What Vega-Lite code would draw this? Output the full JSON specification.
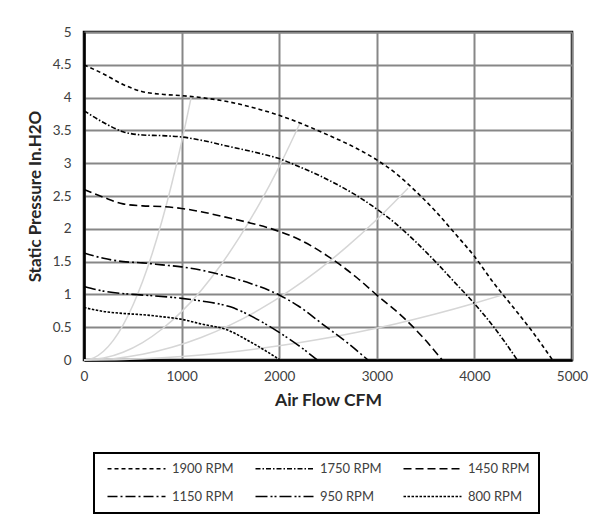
{
  "$schema": "https://vega.github.io/schema/vega-lite/v6.json",
  "width": 488,
  "height": 328,
  "autosize": {"type": "none"},
  "padding": {"left": 84, "top": 32, "right": 36, "bottom": 172},
  "background": "white",
  "config": {
    "font": "Lato",
    "view": {"stroke": "black", "strokeWidth": 2.5},
    "legend": {"strokeWidth": 2},
    "axis": {
      "labelFont": "Lato",
      "titleFont": "Lato",
      "labelColor": "#404040",
      "titleColor": "#262626",
      "gridColor": "#878787",
      "gridWidth": 2,
      "gridOpacity": 1,
      "ticks": false,
      "domainColor": "black",
      "domainWidth": 2.5
    }
  },
  "datasets": {
    "fan": [
      {"rpm": "1900 RPM", "cfm": 0, "p": 4.5}, {"rpm": "1900 RPM", "cfm": 200, "p": 4.36}, {"rpm": "1900 RPM", "cfm": 400, "p": 4.2}, {"rpm": "1900 RPM", "cfm": 600, "p": 4.09}, {"rpm": "1900 RPM", "cfm": 800, "p": 4.05}, {"rpm": "1900 RPM", "cfm": 1000, "p": 4.03}, {"rpm": "1900 RPM", "cfm": 1200, "p": 4.0}, {"rpm": "1900 RPM", "cfm": 1500, "p": 3.93}, {"rpm": "1900 RPM", "cfm": 1800, "p": 3.82}, {"rpm": "1900 RPM", "cfm": 2000, "p": 3.73}, {"rpm": "1900 RPM", "cfm": 2200, "p": 3.62}, {"rpm": "1900 RPM", "cfm": 2500, "p": 3.43}, {"rpm": "1900 RPM", "cfm": 2800, "p": 3.22}, {"rpm": "1900 RPM", "cfm": 3000, "p": 3.05}, {"rpm": "1900 RPM", "cfm": 3200, "p": 2.84}, {"rpm": "1900 RPM", "cfm": 3400, "p": 2.57}, {"rpm": "1900 RPM", "cfm": 3600, "p": 2.27}, {"rpm": "1900 RPM", "cfm": 3800, "p": 1.93}, {"rpm": "1900 RPM", "cfm": 4000, "p": 1.58}, {"rpm": "1900 RPM", "cfm": 4200, "p": 1.17}, {"rpm": "1900 RPM", "cfm": 4400, "p": 0.8}, {"rpm": "1900 RPM", "cfm": 4600, "p": 0.42}, {"rpm": "1900 RPM", "cfm": 4800, "p": 0},
      {"rpm": "1750 RPM", "cfm": 0, "p": 3.8}, {"rpm": "1750 RPM", "cfm": 200, "p": 3.62}, {"rpm": "1750 RPM", "cfm": 400, "p": 3.48}, {"rpm": "1750 RPM", "cfm": 600, "p": 3.43}, {"rpm": "1750 RPM", "cfm": 800, "p": 3.42}, {"rpm": "1750 RPM", "cfm": 1000, "p": 3.4}, {"rpm": "1750 RPM", "cfm": 1200, "p": 3.35}, {"rpm": "1750 RPM", "cfm": 1500, "p": 3.25}, {"rpm": "1750 RPM", "cfm": 1800, "p": 3.15}, {"rpm": "1750 RPM", "cfm": 2000, "p": 3.07}, {"rpm": "1750 RPM", "cfm": 2200, "p": 2.95}, {"rpm": "1750 RPM", "cfm": 2400, "p": 2.82}, {"rpm": "1750 RPM", "cfm": 2600, "p": 2.67}, {"rpm": "1750 RPM", "cfm": 2800, "p": 2.5}, {"rpm": "1750 RPM", "cfm": 3000, "p": 2.3}, {"rpm": "1750 RPM", "cfm": 3200, "p": 2.07}, {"rpm": "1750 RPM", "cfm": 3400, "p": 1.8}, {"rpm": "1750 RPM", "cfm": 3600, "p": 1.5}, {"rpm": "1750 RPM", "cfm": 3800, "p": 1.18}, {"rpm": "1750 RPM", "cfm": 4000, "p": 0.86}, {"rpm": "1750 RPM", "cfm": 4200, "p": 0.5}, {"rpm": "1750 RPM", "cfm": 4440, "p": 0},
      {"rpm": "1450 RPM", "cfm": 0, "p": 2.6}, {"rpm": "1450 RPM", "cfm": 200, "p": 2.48}, {"rpm": "1450 RPM", "cfm": 400, "p": 2.38}, {"rpm": "1450 RPM", "cfm": 600, "p": 2.35}, {"rpm": "1450 RPM", "cfm": 800, "p": 2.34}, {"rpm": "1450 RPM", "cfm": 1000, "p": 2.31}, {"rpm": "1450 RPM", "cfm": 1200, "p": 2.26}, {"rpm": "1450 RPM", "cfm": 1500, "p": 2.16}, {"rpm": "1450 RPM", "cfm": 1700, "p": 2.09}, {"rpm": "1450 RPM", "cfm": 2000, "p": 1.96}, {"rpm": "1450 RPM", "cfm": 2200, "p": 1.84}, {"rpm": "1450 RPM", "cfm": 2500, "p": 1.58}, {"rpm": "1450 RPM", "cfm": 2800, "p": 1.25}, {"rpm": "1450 RPM", "cfm": 3000, "p": 0.99}, {"rpm": "1450 RPM", "cfm": 3300, "p": 0.61}, {"rpm": "1450 RPM", "cfm": 3500, "p": 0.3}, {"rpm": "1450 RPM", "cfm": 3670, "p": 0},
      {"rpm": "1150 RPM", "cfm": 0, "p": 1.63}, {"rpm": "1150 RPM", "cfm": 200, "p": 1.55}, {"rpm": "1150 RPM", "cfm": 400, "p": 1.5}, {"rpm": "1150 RPM", "cfm": 600, "p": 1.48}, {"rpm": "1150 RPM", "cfm": 800, "p": 1.45}, {"rpm": "1150 RPM", "cfm": 1000, "p": 1.42}, {"rpm": "1150 RPM", "cfm": 1200, "p": 1.37}, {"rpm": "1150 RPM", "cfm": 1500, "p": 1.26}, {"rpm": "1150 RPM", "cfm": 1700, "p": 1.17}, {"rpm": "1150 RPM", "cfm": 2000, "p": 0.99}, {"rpm": "1150 RPM", "cfm": 2200, "p": 0.82}, {"rpm": "1150 RPM", "cfm": 2450, "p": 0.54}, {"rpm": "1150 RPM", "cfm": 2700, "p": 0.26}, {"rpm": "1150 RPM", "cfm": 2910, "p": 0},
      {"rpm": "950 RPM", "cfm": 0, "p": 1.12}, {"rpm": "950 RPM", "cfm": 200, "p": 1.05}, {"rpm": "950 RPM", "cfm": 500, "p": 1.0}, {"rpm": "950 RPM", "cfm": 700, "p": 0.98}, {"rpm": "950 RPM", "cfm": 1000, "p": 0.94}, {"rpm": "950 RPM", "cfm": 1200, "p": 0.9}, {"rpm": "950 RPM", "cfm": 1500, "p": 0.81}, {"rpm": "950 RPM", "cfm": 1800, "p": 0.6}, {"rpm": "950 RPM", "cfm": 2000, "p": 0.42}, {"rpm": "950 RPM", "cfm": 2200, "p": 0.22}, {"rpm": "950 RPM", "cfm": 2390, "p": 0},
      {"rpm": "800 RPM", "cfm": 0, "p": 0.8}, {"rpm": "800 RPM", "cfm": 200, "p": 0.74}, {"rpm": "800 RPM", "cfm": 400, "p": 0.71}, {"rpm": "800 RPM", "cfm": 600, "p": 0.69}, {"rpm": "800 RPM", "cfm": 800, "p": 0.66}, {"rpm": "800 RPM", "cfm": 1000, "p": 0.62}, {"rpm": "800 RPM", "cfm": 1200, "p": 0.55}, {"rpm": "800 RPM", "cfm": 1465, "p": 0.46}, {"rpm": "800 RPM", "cfm": 1700, "p": 0.28}, {"rpm": "800 RPM", "cfm": 1850, "p": 0.15}, {"rpm": "800 RPM", "cfm": 2010, "p": 0}
    ],
    "system": [
      {"c": "a", "cfm": 0, "p": 0}, {"c": "a", "cfm": 100, "p": 0.033}, {"c": "a", "cfm": 200, "p": 0.133}, {"c": "a", "cfm": 300, "p": 0.299}, {"c": "a", "cfm": 400, "p": 0.532}, {"c": "a", "cfm": 500, "p": 0.831}, {"c": "a", "cfm": 600, "p": 1.196}, {"c": "a", "cfm": 700, "p": 1.628}, {"c": "a", "cfm": 800, "p": 2.126}, {"c": "a", "cfm": 900, "p": 2.691}, {"c": "a", "cfm": 1000, "p": 3.322}, {"c": "a", "cfm": 1100, "p": 4.02},
      {"c": "b", "cfm": 0, "p": 0}, {"c": "b", "cfm": 200, "p": 0.029}, {"c": "b", "cfm": 400, "p": 0.118}, {"c": "b", "cfm": 600, "p": 0.265}, {"c": "b", "cfm": 800, "p": 0.472}, {"c": "b", "cfm": 1000, "p": 0.737}, {"c": "b", "cfm": 1200, "p": 1.061}, {"c": "b", "cfm": 1400, "p": 1.445}, {"c": "b", "cfm": 1600, "p": 1.887}, {"c": "b", "cfm": 1800, "p": 2.388}, {"c": "b", "cfm": 2000, "p": 2.948}, {"c": "b", "cfm": 2213, "p": 3.61},
      {"c": "c", "cfm": 0, "p": 0}, {"c": "c", "cfm": 300, "p": 0.021}, {"c": "c", "cfm": 600, "p": 0.086}, {"c": "c", "cfm": 900, "p": 0.193}, {"c": "c", "cfm": 1200, "p": 0.343}, {"c": "c", "cfm": 1500, "p": 0.536}, {"c": "c", "cfm": 1800, "p": 0.771}, {"c": "c", "cfm": 2100, "p": 1.05}, {"c": "c", "cfm": 2400, "p": 1.371}, {"c": "c", "cfm": 2700, "p": 1.735}, {"c": "c", "cfm": 3000, "p": 2.142}, {"c": "c", "cfm": 3320, "p": 2.62},
      {"c": "d", "cfm": 0, "p": 0}, {"c": "d", "cfm": 400, "p": 0.009}, {"c": "d", "cfm": 800, "p": 0.035}, {"c": "d", "cfm": 1200, "p": 0.078}, {"c": "d", "cfm": 1600, "p": 0.138}, {"c": "d", "cfm": 2000, "p": 0.216}, {"c": "d", "cfm": 2400, "p": 0.311}, {"c": "d", "cfm": 2800, "p": 0.423}, {"c": "d", "cfm": 3200, "p": 0.553}, {"c": "d", "cfm": 3600, "p": 0.7}, {"c": "d", "cfm": 4000, "p": 0.864}, {"c": "d", "cfm": 4283, "p": 0.99}
    ]
  },
  "encoding": {
    "x": {
      "field": "cfm", "type": "quantitative",
      "scale": {"domain": [0, 5000], "nice": false},
      "axis": {"values": [0, 1000, 2000, 3000, 4000, 5000], "format": "d", "title": "Air Flow CFM", "titleFontSize": 17.5, "titleFontWeight": "bold", "labelFontSize": 13.5, "labelPadding": 9, "titlePadding": 9, "labelFlush": false, "grid": true}
    },
    "y": {
      "field": "p", "type": "quantitative",
      "scale": {"domain": [0, 5], "nice": false},
      "axis": {"values": [0, 0.5, 1, 1.5, 2, 2.5, 3, 3.5, 4, 4.5, 5], "format": "~g", "title": "Static Pressure In.H2O", "titleFontSize": 17, "titleFontWeight": "bold", "labelFontSize": 13.5, "labelPadding": 13, "titlePadding": 8, "labelFlush": false, "grid": true}
    }
  },
  "layer": [
    {
      "data": {"name": "system"},
      "mark": {"type": "line", "color": "#d6d6d6", "strokeWidth": 1.5, "interpolate": "monotone"},
      "encoding": {"detail": {"field": "c"}}
    },
    {
      "data": {"name": "fan"},
      "mark": {"type": "line", "color": "black", "strokeWidth": 1.6, "interpolate": "monotone"},
      "encoding": {
        "strokeDash": {
          "field": "rpm", "type": "nominal",
          "scale": {
            "domain": ["1900 RPM", "1750 RPM", "1450 RPM", "1150 RPM", "950 RPM", "800 RPM"],
            "range": [[4, 3], [5, 2, 1.5, 2], [8, 4], [10, 3, 2, 3], [12, 3, 2, 2, 2, 3], [2.5, 1.5]]
          },
          "legend": {
            "title": null,
            "orient": "none",
            "legendX": 10,
            "legendY": 421,
            "columns": 3,
            "direction": "horizontal",
            "symbolType": "M-1,0H28",
            "symbolSize": 16,
            "symbolStrokeColor": "black",
            "symbolStrokeWidth": 1.5,
            "labelFont": "Lato",
            "labelFontSize": 13,
            "labelColor": "#404040",
            "labelOffset": 56,
            "columnPadding": 17,
            "rowPadding": 14,
            "padding": 9,
            "strokeColor": "black",
            "cornerRadius": 0
          }
        }
      }
    }
  ]
}
